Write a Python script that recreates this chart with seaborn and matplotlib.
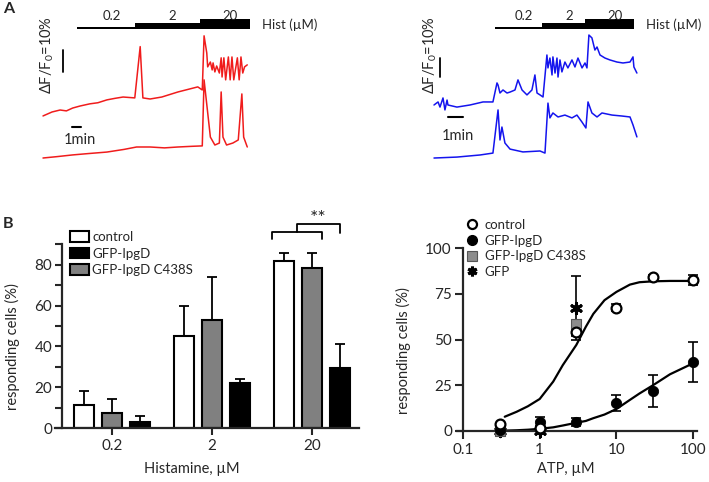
import numpy as np
import pandas as pd
import matplotlib
matplotlib.use("Agg")
import matplotlib.pyplot as plt
import seaborn as sns
from matplotlib.patches import Patch
from matplotlib.lines import Line2D
from matplotlib.ticker import MultipleLocator, FixedLocator, NullLocator

# seaborn style first, fonts after it
sns.set_style("ticks")
plt.rcParams['font.family'] = ['Lato', 'DejaVu Sans']
plt.rcParams['mathtext.fontset'] = 'custom'
plt.rcParams['mathtext.rm'] = 'Lato'
plt.rcParams['mathtext.default'] = 'regular'

# ---------------- data: panel A traces (time in min, dF/F0 in %) ----------------
hist_conc = ['0.2', '2', '20']

red_top_t = [0, 1.0, 1.9, 2.6, 3.3, 4.1, 5.2, 6.1, 7.1, 8.0, 8.9, 10.2, 10.8, 11.1, 11.9,
             13.2, 15.0, 17.2, 17.7, 17.9, 18.2, 18.3, 18.6, 18.8, 18.9, 19.1, 19.3, 19.6,
             19.8, 19.9, 20.1, 20.3, 20.6, 20.8, 21.0, 21.2, 21.6, 21.8, 22.0, 22.2, 22.4, 22.7]
red_top_v = [0, 1.8, 2.7, 2.3, 3.6, 4.5, 5.5, 6.0, 7.3, 8.0, 8.6, 8.2, 31.5, 8.2, 7.7,
             8.6, 10.9, 13.2, 11.8, 36.4, 28.6, 22.3, 24.5, 20.9, 24.1, 20.0, 22.7, 19.5,
             26.4, 17.7, 26.4, 16.4, 26.8, 16.4, 26.8, 16.4, 26.4, 16.4, 26.8, 19.5, 22.3, 23.2]

red_bot_t = [0, 1.5, 3.3, 5.0, 7.1, 9.0, 10.4, 11.9, 13.5, 15.0, 16.5, 17.7, 17.9, 18.6,
             19.1, 19.6, 19.8, 20.0, 20.4, 21.1, 21.7, 22.1, 22.3, 22.7]
red_bot_v = [0, 0.6, 1.4, 2.0, 2.7, 3.9, 5.0, 5.0, 4.6, 5.0, 5.3, 5.5, 35.5, 9.5,
             5.9, 6.8, 30.0, 9.5, 5.9, 6.8, 8.2, 29.1, 9.5, 5.0]

blue_top_t = [0, 0.27, 0.4, 0.6, 0.73, 0.87, 0.93, 1.53, 2.4, 3.27, 3.93, 4.2, 4.27, 4.4,
              4.6, 4.87, 5.07, 5.4, 5.6, 5.87, 6.2, 6.53, 6.73, 6.87, 7.07, 7.27, 7.53, 7.6,
              7.73, 7.87, 7.93, 8.07, 8.2, 8.27, 8.4, 8.53, 8.73, 8.93, 9.2, 9.4, 9.6, 9.87,
              10.07, 10.2, 10.33, 10.53, 10.73, 10.87, 11.07, 11.4, 11.73, 12.2, 12.6, 13.07,
              13.27, 13.33, 13.53]
blue_top_v = [0, 1.6, -1.1, 3.7, -2.6, 2.6, 0, -1.1, 0, 1.6, 1.6, 11.6, 10.5, 6.3,
              7.9, 6.3, 6.8, 7.9, 13.2, 7.9, 5.3, 7.9, 15.8, 6.3, 5.3, 4.2, 26.3, 19.5,
              24.7, 15.8, 25.3, 16.8, 24.7, 14.7, 23.7, 17.4, 22.6, 19.5, 23.7, 20.0, 24.7, 19.5,
              22.1, 19.5, 36.8, 35.3, 28.9, 30.5, 26.3, 24.7, 23.7, 22.6, 22.1, 22.6,
              25.3, 20.0, 16.8]

blue_bot_t = [0, 1.53, 3.07, 3.93, 4.27, 4.4, 4.53, 4.73, 5.07, 5.93, 7.07, 7.4, 7.6, 7.73,
              7.93, 8.27, 8.73, 9.2, 9.53, 9.87, 10.13, 10.27, 10.53, 10.87, 11.2, 11.87,
              12.53, 13.07, 13.27, 13.53]
blue_bot_v = [0, 0.5, 1.6, 2.6, 25.3, 9.5, 16.3, 7.9, 4.7, 3.2, 3.7, 2.6, 28.9, 21.1,
              23.7, 21.6, 22.6, 21.1, 22.6, 18.9, 15.8, 29.5, 23.7, 21.6, 23.7, 22.6,
              22.1, 21.6, 17.4, 11.1]

# ---------------- data: panel B bars ----------------
hist_doses = ['0.2', '2', '20']
bar_groups = ['control', 'GFP-IpgD C438S', 'GFP-IpgD']
control_vals = [11.3, 45.3, 82.0]
control_err = [7.0, 14.5, 4.0]
c438s_vals = [7.5, 53.0, 78.6]
c438s_err = [6.9, 21.0, 7.0]
ipgd_vals = [3.1, 21.9, 29.2]
ipgd_err = [2.9, 2.0, 11.8]

# ---------------- data: panel B ATP dose response ----------------
atp = [0.3, 1, 3, 10, 30, 100]
atp_control = [3.8, 1.5, 54.0, 67.4, 84.0, 82.5]
atp_control_err = [0.5, 0.5, 2.0, 2.0, 1.0, 2.5]
atp_ipgd = [0.5, 5.0, 5.0, 15.3, 22.0, 37.7]
atp_ipgd_err = [0.5, 2.5, 2.0, 4.5, 8.7, 11.0]
atp_c438s_x = [0.3, 3]
atp_c438s = [0.0, 58.5]
atp_gfp_x = [0.3, 1, 3]
atp_gfp = [0.0, 0.0, 67.0]
atp_gfp_err = [1.5, 1.5, 17.5]

fit_x = [0.35, 0.5, 0.7, 1, 1.5, 2, 3, 4, 5, 7, 10, 15, 20, 30, 50, 100]
fit_control = [7.8, 10.5, 13.5, 17.5, 27, 36, 47, 57, 64, 71.5, 76, 80, 81.3, 81.8, 82, 82]
fit_ipgd = [0.2, 0.4, 0.7, 1.2, 2, 3, 4.5, 5.5, 7, 9, 12, 17, 20.5, 25, 31, 37]

# ---------------- layout helpers ----------------
W, H = 709, 482
fig = plt.figure(figsize=(W / 100, H / 100), dpi=100)


def px_rect(x0, y0, x1, y1):
    return [x0 / W, 1 - y1 / H, (x1 - x0) / W, (y1 - y0) / H]


def trace_panel(rect, xlim, ylim, traces, color, steps, px_pct,
                bar_base, vbar_t, vbar_v0, tbar_t0, tbar_v, label_pos, min_pos):
    ax = fig.add_axes(rect)
    ax.set_xlim(*xlim)
    ax.set_ylim(*ylim)
    ax.axis('off')
    for t, v, off in traces:
        sns.lineplot(x=t, y=np.array(v) + off, color=color, lw=1.1,
                     sort=False, estimator=None, ax=ax)
    # histamine steps
    starts, end = steps
    edges = starts + [end]
    thick_px = [2, 6, 9.5]
    for i, lab in enumerate(hist_conc):
        ax.fill_between([edges[i], edges[i + 1]], bar_base,
                        bar_base + thick_px[i] / px_pct, color='black', lw=0)
        ax.annotate(lab, xy=((edges[i] + edges[i + 1]) / 2, bar_base + 13 / px_pct),
                    xytext=(4, 0), textcoords='offset points',
                    ha='center', va='center', fontsize=9.5)
    ax.annotate('Hist (µM)', xy=(end, bar_base + 4.5 / px_pct), xytext=(9, 0),
                textcoords='offset points', ha='left', va='center', fontsize=9.5,
                annotation_clip=False)
    # scale bars
    ax.plot([vbar_t, vbar_t], [vbar_v0, vbar_v0 + 10], color='black', lw=1.3)
    ax.plot([tbar_t0, tbar_t0 + 1], [tbar_v, tbar_v], color='black', lw=1.5)
    ax.text(label_pos[0], label_pos[1], 'ΔF/F$_0$=10%', rotation=90,
            ha='center', va='center', fontsize=10.5)
    ax.text(min_pos[0], min_pos[1], '1min', ha='center', va='center', fontsize=10.5)
    return ax


# left traces (red)
trace_panel(px_rect(35, 5, 255, 170), (-0.89, 23.56), (-5.45, 69.5),
            [(red_top_t, red_top_v, 19.1), (red_bot_t, red_bot_v, 0)],
            '#f01c1c', ([3.8, 10.2, 17.4], 23.0), 2.2,
            58.6, 2.2, 39.1, 3.2, 14.1, (0.44, 46.8), (4.1, 8.2))

# right traces (blue)
trace_panel(px_rect(425, 5, 645, 170), (-0.6, 14.07), (-6.3, 80.5),
            [(blue_top_t, blue_top_v, 27.9), (blue_bot_t, blue_bot_v, 0)],
            '#1414ee', ([4.07, 7.2, 10.07], 13.33), 1.9,
            67.9, 0.4, 42.6, 0.93, 21.6, (-0.27, 54.2), (1.6, 11.6))

# ---------------- panel B: histamine bars ----------------
bars = pd.DataFrame({
    'dose': hist_doses * 3,
    'group': [g for g in bar_groups for _ in hist_doses],
    'value': control_vals + c438s_vals + ipgd_vals,
})
errs = {'control': control_err, 'GFP-IpgD C438S': c438s_err, 'GFP-IpgD': ipgd_err}
colors = {'control': 'white', 'GFP-IpgD C438S': '#808080', 'GFP-IpgD': 'black'}

axb = fig.add_axes(px_rect(55, 203.6, 359, 428))
sns.barplot(data=bars, x='dose', y='value', hue='group', hue_order=bar_groups,
            order=hist_doses, palette=colors, width=0.84, gap=0.32,
            edgecolor='black', linewidth=1.5, errorbar=None, legend=False, ax=axb)
for cont, g in zip(axb.containers, bar_groups):
    for patch, err in zip(cont.patches, errs[g]):
        xc = patch.get_x() + patch.get_width() / 2
        axb.errorbar(xc, patch.get_height(), yerr=[[0], [err]], color='black',
                     lw=1.3, capsize=3.6, capthick=1.3, zorder=1)

axb.set_xlim(-0.57, 2.47)
axb.set_ylim(0, 110)
axb.spines['left'].set_position(('data', -0.5))
axb.spines['left'].set_bounds(0, 90)
for s in ['top', 'right']:
    axb.spines[s].set_visible(False)
for s in ['left', 'bottom']:
    axb.spines[s].set_linewidth(1.6)
axb.yaxis.set_major_locator(FixedLocator([0, 20, 40, 60, 80]))
axb.yaxis.set_minor_locator(FixedLocator([10, 30, 50, 70, 90]))
axb.tick_params(which='both', direction='out', length=5, width=1.5, labelsize=11, pad=2)
axb.tick_params(axis='x', pad=3)
axb.set_xlabel('')
axb.set_ylabel('')

# significance brackets (** between 20 µM groups)
p_ctrl = axb.containers[0].patches[2]
p_c438 = axb.containers[1].patches[2]
p_ipgd = axb.containers[2].patches[2]
lx0 = p_ctrl.get_x() - 0.02
lx1 = p_c438.get_x() + p_c438.get_width()
axb.plot([lx0, lx0, lx1, lx1], [92.6, 96, 96, 92.6], color='black', lw=1.3, clip_on=False)
ux0 = (lx0 + lx1) / 2
ux1 = p_ipgd.get_x() + p_ipgd.get_width() / 2
axb.plot([ux0, ux0, ux1, ux1], [96, 100, 100, 95.6], color='black', lw=1.3, clip_on=False)
axb.text((ux0 + ux1) / 2, 102.5, '**', ha='center', va='center', fontsize=14)

bar_handles = [Patch(facecolor=colors[g], edgecolor='black', linewidth=1.5)
               for g in ['control', 'GFP-IpgD', 'GFP-IpgD C438S']]
fig.legend(bar_handles, ['control', 'GFP-IpgD', 'GFP-IpgD C438S'], loc='upper left',
           bbox_to_anchor=(70 / W, 1 - 231 / H), frameon=False, fontsize=9.5,
           handlelength=1.45, handleheight=0.85, handletextpad=0.25,
           labelspacing=0.35, borderpad=0, borderaxespad=0)

fig.text(12 / W, 1 - 347 / H, 'responding cells (%)', rotation=90,
         ha='center', va='center', fontsize=10.5)
fig.text(192 / W, 1 - 469 / H, 'Histamine, µM', ha='center', va='center', fontsize=10.5)

# ---------------- panel B: ATP dose response ----------------
axa = fig.add_axes(px_rect(457, 248, 697, 431))
axa.set_xscale('log')
sns.lineplot(x=fit_x, y=fit_control, color='black', lw=1.6, sort=False,
             estimator=None, ax=axa)
sns.lineplot(x=fit_x, y=fit_ipgd, color='black', lw=1.6, sort=False,
             estimator=None, ax=axa)

axa.errorbar(atp_gfp_x, atp_gfp, yerr=atp_gfp_err, fmt='none', ecolor='black',
             lw=1.2, capsize=3.6, capthick=1.2, clip_on=False)
axa.errorbar(atp, atp_ipgd, yerr=atp_ipgd_err, fmt='none', ecolor='black',
             lw=1.2, capsize=3.6, capthick=1.2, clip_on=False)
axa.errorbar(atp, atp_control, yerr=atp_control_err, fmt='none', ecolor='black',
             lw=1.2, capsize=3.6, capthick=1.2, clip_on=False)

sns.scatterplot(x=atp_gfp_x, y=atp_gfp, marker=(6, 2, 0), s=55, color='black',
                linewidth=2.2, ax=axa, clip_on=False, zorder=3)
sns.scatterplot(x=atp_c438s_x, y=atp_c438s, marker='s', s=55, color='#8c8c8c',
                edgecolor='#555555', linewidth=0.8, ax=axa, clip_on=False, zorder=4)
sns.scatterplot(x=atp, y=atp_ipgd, marker='o', s=55, color='black',
                edgecolor='black', ax=axa, clip_on=False, zorder=4)
sns.scatterplot(x=atp, y=atp_control, marker='o', s=50, color='white',
                edgecolor='black', linewidth=1.6, ax=axa, clip_on=False, zorder=5)

axa.set_xlim(10 ** (-1 - 6 / 76.7), 10 ** (-1 + 234 / 76.7))
axa.set_ylim(0, 100)
axa.spines['left'].set_position(('data', 0.1))
for s in ['top', 'right']:
    axa.spines[s].set_visible(False)
for s in ['left', 'bottom']:
    axa.spines[s].set_linewidth(1.6)
axa.xaxis.set_major_locator(FixedLocator([0.1, 1, 10, 100]))
axa.xaxis.set_minor_locator(NullLocator())
axa.set_xticklabels(['0.1', '1', '10', '100'])
axa.yaxis.set_major_locator(MultipleLocator(25))
axa.tick_params(direction='out', length=6, width=1.5, labelsize=11, pad=2)
axa.tick_params(axis='x', pad=3)
axa.set_xlabel('')
axa.set_ylabel('')

atp_handles = [
    Line2D([], [], ls='none', marker='o', ms=6.5, mfc='white', mec='black', mew=1.6),
    Line2D([], [], ls='none', marker='o', ms=7, mfc='black', mec='black'),
    Line2D([], [], ls='none', marker='s', ms=7, mfc='#8c8c8c', mec='#555555', mew=0.8),
    Line2D([], [], ls='none', marker=(6, 2, 0), ms=7, mec='black', mew=2.2),
]
fig.legend(atp_handles, ['control', 'GFP-IpgD', 'GFP-IpgD C438S', 'GFP'], loc='upper left',
           bbox_to_anchor=(467 / W, 1 - 219 / H), frameon=False, fontsize=9.5,
           handlelength=0.8, handletextpad=0.55, labelspacing=0.28,
           borderpad=0, borderaxespad=0)

fig.text(403 / W, 1 - 351 / H, 'responding cells (%)', rotation=90,
         ha='center', va='center', fontsize=10.5)
fig.text(566 / W, 1 - 469 / H, 'ATP, µM', ha='center', va='center', fontsize=10.5)

# panel letters
fig.text(3 / W, 1 - 9 / H, 'A', fontsize=11.5, fontweight='bold', ha='left', va='center')
fig.text(3 / W, 1 - 224 / H, 'B', fontsize=11.5, fontweight='bold', ha='left', va='center')

fig.savefig('out.png', dpi=100)
